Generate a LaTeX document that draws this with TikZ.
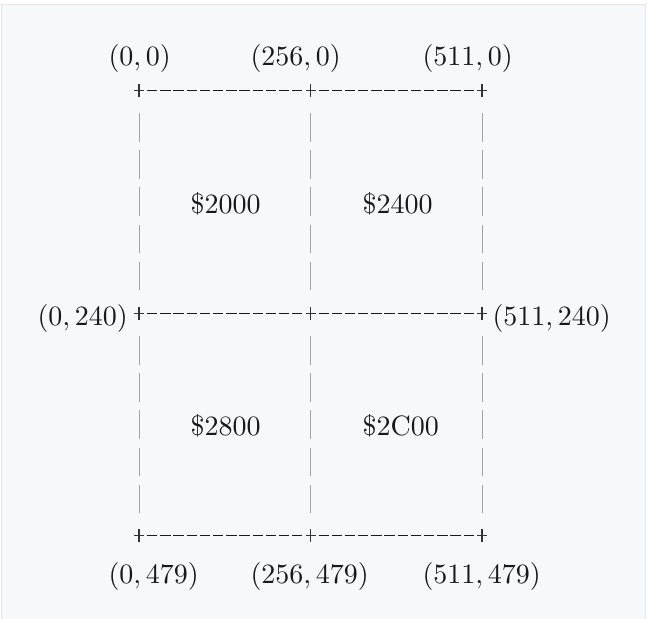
\documentclass[tikz,border=0pt]{standalone}
\definecolor{pagebg}{HTML}{F6F8FA}
\definecolor{pageedge}{HTML}{E3E6EA}
\definecolor{bargray}{HTML}{A3A3A3}
\tikzstyle{hrule}=[line width=1.4pt,black!90,dash pattern=on 10.4pt off 2.79pt,shorten <=8pt,shorten >=8pt]
\tikzstyle{vrule}=[line width=1pt,bargray,dash pattern=on 28.5pt off 8.7pt,shorten <=22.5pt,shorten >=22.5pt]
\tikzstyle{coordlabel}=[anchor=base west,inner sep=0pt,text=black!90,scale=2.8,transform shape]
\tikzset{crossmark/.pic={\draw[line width=1.2pt,black!80] (-5,0) -- (5,0) (0,-6.5) -- (0,6.5);}}

\begin{document}
\begin{tikzpicture}[x=1pt,y=-1pt]
	\useasboundingbox (0,0) rectangle (649,619);
	\fill[white] (0,0) rectangle (649,619);
	\filldraw[fill=pagebg,draw=pageedge,line width=1.5pt] (1.5,4.5) rectangle (645.5,640);
	% grid corners
	\coordinate (tl) at (139,90.5);
	\coordinate (tm) at (310.5,90.5);
	\coordinate (tr) at (482,90.5);
	\coordinate (ml) at (139,313.5);
	\coordinate (mm) at (310.5,313.5);
	\coordinate (mr) at (482,313.5);
	\coordinate (bl) at (139,535.5);
	\coordinate (bm) at (310.5,535.5);
	\coordinate (br) at (482,535.5);
	% dashed rows
	\foreach \a/\b in {tl/tm,tm/tr,ml/mm,mm/mr,bl/bm,bm/br}
		\draw[hrule] (\a) -- (\b);
	% bar columns
	\foreach \a/\b in {tl/ml,tm/mm,tr/mr,ml/bl,mm/bm,mr/br}
		\draw[vrule] (\a) -- (\b);
	\foreach \p in {tl,tm,tr,ml,mm,mr,bl,bm,br}
		\pic at (\p) {crossmark};
	% corner labels
	\node[coordlabel] (ltl) at (108,65.5) {$(0, 0)$};
	\node[coordlabel] (ltm) at (250,65.5) {$(256, 0)$};
	\node[coordlabel] (ltr) at (422,65.5) {$(511, 0)$};
	\node[coordlabel] (lml) at (37,325) {$(0, 240)$};
	\node[coordlabel] (lmr) at (492,325) {$(511, 240)$};
	\node[coordlabel] (lbl) at (108,583) {$(0, 479)$};
	\node[coordlabel] (lbm) at (250,583) {$(256, 479)$};
	\node[coordlabel] (lbr) at (422,583) {$(511, 479)$};
	% quadrant addresses
	\node[coordlabel] (qa) at (190,213) {\$2000};
	\node[coordlabel] (qb) at (362,213) {\$2400};
	\node[coordlabel] (qc) at (190,435) {\$2800};
	\node[coordlabel] (qd) at (362,435) {\$2C00};
\end{tikzpicture}
\end{document}
